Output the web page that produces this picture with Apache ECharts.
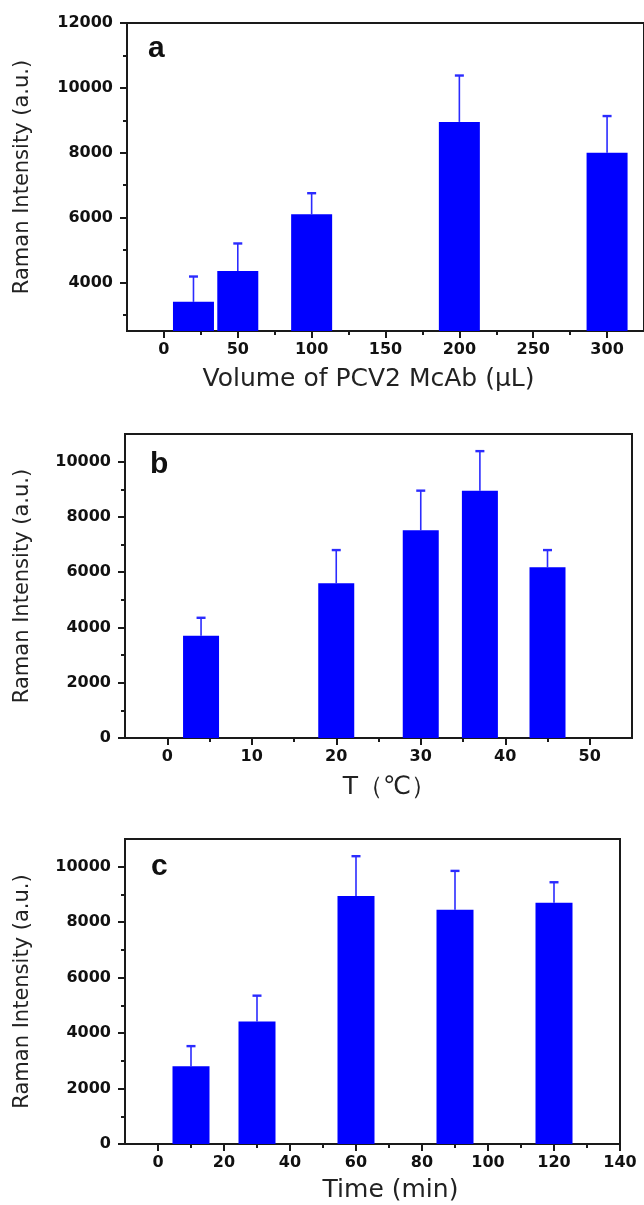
<!DOCTYPE html>
<html>
<head>
<meta charset="utf-8">
<script src="https://cdn.jsdelivr.net/npm/echarts@6/dist/echarts.min.js"></script>
<style>
  html, body { margin: 0; padding: 0; background: #fff; }
  #main { width: 644px; height: 1205px; }
</style>
</head>
<body>
<div id="main"></div>
<script>
// panel a: volume of PCV2 McAb
var aX = [20, 50, 100, 200, 300];
var aY = [3400, 4350, 6100, 8950, 8000];
var aErr = [4180, 5200, 6750, 10380, 9130];
var aXTicks = [0, 50, 100, 150, 200, 250, 300];
var aXMinor = [25, 75, 125, 175, 225, 275];
var aYTicks = [4000, 6000, 8000, 10000, 12000];
var aYMinor = [3000, 5000, 7000, 9000, 11000];

// panel b: temperature
var bX = [4, 20, 30, 37, 45];
var bY = [3700, 5600, 7520, 8950, 6180];
var bErr = [4350, 6800, 8950, 10380, 6800];
var bXTicks = [0, 10, 20, 30, 40, 50];
var bXMinor = [5, 15, 25, 35, 45];
var bYTicks = [0, 2000, 4000, 6000, 8000, 10000];
var bYMinor = [1000, 3000, 5000, 7000, 9000];

// panel c: time
var cX = [10, 30, 60, 90, 120];
var cY = [2800, 4420, 8940, 8450, 8700];
var cErr = [3530, 5350, 10380, 9850, 9440];
var cXTicks = [0, 20, 40, 60, 80, 100, 120, 140];
var cXMinor = [10, 30, 50, 70, 90, 110, 130];
var cYTicks = [0, 2000, 4000, 6000, 8000, 10000];
var cYMinor = [1000, 3000, 5000, 7000, 9000];

var BLUE = '#0000ff';
var INK = '#1a1a1a';
var FONT = 'DejaVu Sans';

var option = {
    animation: false,
    backgroundColor: '#fff',
    title: [],
    grid: [],
    xAxis: [],
    yAxis: [],
    series: []
};

function plain(v) { return String(v); }

function addPanel(p) {
    var gi = option.grid.length;
    option.grid.push({
        left: p.left, top: p.top, width: p.width, height: p.height,
        show: true, borderColor: INK, borderWidth: 2
    });
    var xi = option.xAxis.length;
    var yi = option.yAxis.length;

    var lineStyle = { color: INK, width: 2 };
    var tickFont = { fontFamily: FONT, fontWeight: 'bold', fontSize: 16, color: '#111', formatter: plain };

    // major x ticks + labels
    option.xAxis.push({
        type: 'value', gridIndex: gi, position: 'bottom', min: p.xMin, max: p.xMax,
        name: p.xName, nameLocation: 'middle', nameGap: p.xNameGap,
        nameTextStyle: { fontFamily: FONT, fontSize: 25, color: '#222', padding: p.xNamePad },
        axisLine: { show: true, onZero: false, lineStyle: lineStyle },
        axisTick: { show: true, length: 7, lineStyle: lineStyle, customValues: p.xTicks },
        axisLabel: Object.assign({ customValues: p.xTicks, margin: 11 }, tickFont),
        splitLine: { show: false }
    });
    // minor x ticks
    option.xAxis.push({
        type: 'value', gridIndex: gi, position: 'bottom', min: p.xMin, max: p.xMax,
        axisLine: { show: false, onZero: false },
        axisTick: { show: true, length: 4, lineStyle: lineStyle, customValues: p.xMinor },
        axisLabel: { show: false },
        splitLine: { show: false }
    });
    option.yAxis.push({
        type: 'value', gridIndex: gi, position: 'left', min: p.yMin, max: p.yMax,
        name: 'Raman Intensity (a.u.)', nameLocation: 'middle', nameGap: p.yNameGap,
        nameTextStyle: { fontFamily: FONT, fontSize: 21, color: '#222' },
        axisLine: { show: true, onZero: false, lineStyle: lineStyle },
        axisTick: { show: true, length: 7, lineStyle: lineStyle, customValues: p.yTicks },
        axisLabel: Object.assign({ customValues: p.yTicks, margin: 14 }, tickFont),
        splitLine: { show: false }
    });
    option.yAxis.push({
        type: 'value', gridIndex: gi, position: 'left', min: p.yMin, max: p.yMax,
        axisLine: { show: false, onZero: false },
        axisTick: { show: true, length: 4, lineStyle: lineStyle, customValues: p.yMinor },
        axisLabel: { show: false },
        splitLine: { show: false }
    });

    option.title.push({
        text: p.tag, left: p.tagLeft, top: p.tagTop,
        textStyle: { fontFamily: 'Liberation Sans', fontWeight: 'bold', fontSize: 30, color: '#111' }
    });

    option.series.push({
        type: 'bar', xAxisIndex: xi, yAxisIndex: yi,
        barWidth: p.barWidth,
        itemStyle: { color: BLUE },
        data: p.x.map(function (v, i) { return [v, p.y[i]]; })
    });
    // upper error bars
    option.series.push({
        type: 'custom', xAxisIndex: xi, yAxisIndex: yi,
        data: p.x.map(function (v, i) { return [v, p.y[i], p.err[i]]; }),
        renderItem: function (params, api) {
            var lo = api.coord([api.value(0), api.value(1)]);
            var hi = api.coord([api.value(0), api.value(2)]);
            return {
                type: 'group',
                children: [
                    { type: 'line', shape: { x1: lo[0], y1: lo[1], x2: hi[0], y2: hi[1] }, style: { stroke: '#2b2bff', lineWidth: 1.6 } },
                    { type: 'line', shape: { x1: hi[0] - 4.5, y1: hi[1], x2: hi[0] + 4.5, y2: hi[1] }, style: { stroke: '#2b2bff', lineWidth: 2.4 } }
                ]
            };
        }
    });
}

addPanel({
    left: 127, top: 23, width: 519, height: 308,
    xMin: -25, xMax: 325, yMin: 2500, yMax: 12000,
    xTicks: aXTicks, xMinor: aXMinor, yTicks: aYTicks, yMinor: aYMinor,
    xName: 'Volume of PCV2 McAb (μL)', xNameGap: 36, xNamePad: [0, 34, 0, 0], yNameGap: 94,
    x: aX, y: aY, err: aErr, barWidth: 41,
    tag: 'a', tagLeft: 143, tagTop: 29
});

addPanel({
    left: 125, top: 434, width: 507, height: 304,
    xMin: -5, xMax: 55, yMin: 0, yMax: 11000,
    xTicks: bXTicks, xMinor: bXMinor, yTicks: bYTicks, yMinor: bYMinor,
    xName: 'T（℃）', xNameGap: 37, xNamePad: [0, 0, 0, 22], yNameGap: 92,
    x: bX, y: bY, err: bErr, barWidth: 36,
    tag: 'b', tagLeft: 145, tagTop: 445
});

addPanel({
    left: 125, top: 839, width: 495, height: 305,
    xMin: -10, xMax: 140, yMin: 0, yMax: 11000,
    xTicks: cXTicks, xMinor: cXMinor, yTicks: cYTicks, yMinor: cYMinor,
    xName: 'Time (min)', xNameGap: 34, xNamePad: [0, 0, 0, 36], yNameGap: 92,
    x: cX, y: cY, err: cErr, barWidth: 37,
    tag: 'c', tagLeft: 146, tagTop: 847
});

var chart = echarts.init(document.getElementById('main'));
chart.setOption(option);
</script>
</body>
</html>
